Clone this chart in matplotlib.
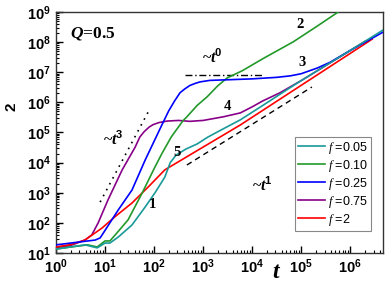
import numpy as np
import matplotlib
matplotlib.use("Agg")
import matplotlib.pyplot as plt

plt.rcParams['mathtext.fontset'] = 'custom'
plt.rcParams['mathtext.bf'] = 'Liberation Sans:bold'
plt.rcParams['mathtext.rm'] = 'Liberation Sans'
plt.rcParams['mathtext.it'] = 'Liberation Serif:italic'
plt.rcParams['mathtext.sf'] = 'Liberation Serif:bold:italic'
plt.rcParams['font.family'] = ['Liberation Sans', 'DejaVu Sans']

# ---- data (log10 of t and of the quantity) ----
teal_logt = [0.0, 0.3, 0.59, 0.84, 1.0, 1.1, 1.27, 1.55, 1.82, 2.02, 2.22, 2.33, 2.45, 2.65,
             2.88, 3.1, 3.41, 3.76, 4.22, 4.92, 5.59, 6.0, 6.67]
teal_logy = [1.13, 1.2, 1.27, 1.17, 1.33, 1.33, 1.53, 1.93, 2.53, 3.0, 3.52, 4.0, 4.25, 4.45,
             4.62, 4.85, 5.12, 5.42, 5.9, 6.64, 7.31, 7.72, 8.40]

green_logt = [0.0, 0.3, 0.65, 0.84, 1.0, 1.1, 1.24, 1.47, 1.76, 2.02, 2.16, 2.35, 2.59, 2.67,
              2.88, 3.08, 3.3, 3.49, 3.8, 4.22, 4.84, 5.3, 5.73, 5.9]
green_logy = [1.13, 1.2, 1.27, 1.2, 1.4, 1.4, 1.66, 2.1, 3.0, 3.86, 4.3, 4.85, 5.39, 5.52,
              5.9, 6.18, 6.55, 6.81, 7.05, 7.45, 8.01, 8.5, 8.97, 9.2]

blue_logt = [0.0, 0.4, 0.8, 0.9, 1.0, 1.27, 1.55, 1.82, 2.18, 2.3, 2.42, 2.53, 2.63, 2.73,
             2.84, 2.94, 3.14, 3.5, 4.0, 4.5, 4.78, 5.0, 5.33, 5.59, 6.0, 6.67]
blue_logy = [1.27, 1.35, 1.43, 1.5, 1.75, 2.43, 3.09, 4.09, 5.32, 5.72, 6.05, 6.32, 6.45, 6.56,
             6.63, 6.68, 6.73, 6.75, 6.78, 6.83, 6.88, 6.95, 7.14, 7.33, 7.72, 8.33]

purple_logt = [0.0, 0.3, 0.59, 0.73, 0.86, 1.06, 1.35, 1.61, 1.71, 1.8, 1.9, 1.98, 2.1, 2.27,
               2.5, 2.73, 3.0, 3.41, 3.76, 4.0, 4.22, 4.57, 5.0, 5.59, 6.3]
purple_logy = [1.17, 1.25, 1.43, 1.6, 2.0, 2.76, 3.76, 4.5, 4.85, 5.03, 5.18, 5.26, 5.33, 5.38,
               5.4, 5.37, 5.4, 5.52, 5.65, 5.85, 6.05, 6.32, 6.72, 7.31, 8.02]

red_logt = [0.0, 0.3, 0.59, 0.94, 1.2, 1.55, 1.88, 2.22, 3.76, 6.45]
red_logy = [1.2, 1.28, 1.43, 1.83, 2.2, 2.66, 3.19, 3.76, 5.25, 8.1]

series_labels = ['=0.05', '=0.10', '=0.25', '=0.75', '=2']
series_colors = ['#1a9999', '#22992a', '#0000ff', '#880088', '#ff0000']

# guide lines
cube_logt, cube_logy = [0.9, 1.88], [2.69, 5.68]
flat_logt, flat_logy = [2.63, 4.22], [6.91, 6.91]
lin_logt, lin_logy = [2.67, 5.22], [3.92, 6.51]

fig = plt.figure(figsize=(3.9, 2.91), dpi=100)
ax = fig.add_axes([0.1436, 0.1306, 0.982 - 0.1436, 0.9588 - 0.1306])

curves = [(teal_logt, teal_logy), (green_logt, green_logy), (blue_logt, blue_logy),
          (purple_logt, purple_logy), (red_logt, red_logy)]
zord = [6, 4, 5, 2, 3]
for (lt, ly), lab, c, z in zip(curves, series_labels, series_colors, zord):
    ax.plot(10 ** np.array(lt), 10 ** np.array(ly), color=c, lw=1.2, zorder=z,
            label=r'$\mathit{f}$ ' + lab)

ax.plot(10 ** np.array(cube_logt), 10 ** np.array(cube_logy), color='k', lw=1.2,
        linestyle=(0, (1, 3)))
ax.plot(10 ** np.array(flat_logt), 10 ** np.array(flat_logy), color='k', lw=1.0,
        linestyle=(0, (5, 2, 1, 2)))
ax.plot(10 ** np.array(lin_logt), 10 ** np.array(lin_logy), color='k', lw=1.0,
        linestyle=(0, (4, 3)))

ax.set_xscale('log')
ax.set_yscale('log')
ax.set_xlim(1, 10 ** 6.67)
ax.set_ylim(10, 1e9)
ax.set_yticks([10 ** k for k in range(1, 10)])
ax.set_xticks([10 ** k for k in range(0, 7)])
ax.xaxis.set_minor_locator(matplotlib.ticker.LogLocator(base=10, subs=np.arange(2, 10), numticks=20))
ax.yaxis.set_minor_locator(matplotlib.ticker.LogLocator(base=10, subs=np.arange(2, 10), numticks=20))
ax.xaxis.set_minor_formatter(matplotlib.ticker.NullFormatter())
ax.yaxis.set_minor_formatter(matplotlib.ticker.NullFormatter())
ax.tick_params(which='both', direction='in', top=False, right=False, labelsize=10.5)
ax.tick_params(which='major', length=5, width=1)
ax.tick_params(which='minor', length=2.5, width=0.8)
plt.rcParams['mathtext.default'] = 'bf'
ax.xaxis.set_major_formatter(matplotlib.ticker.FuncFormatter(lambda v, p: r'$\mathbf{10^{%d}}$' % round(np.log10(v))))
ax.yaxis.set_major_formatter(matplotlib.ticker.FuncFormatter(lambda v, p: r'$\mathbf{10^{%d}}$' % round(np.log10(v))))
for s in ax.spines.values():
    s.set_linewidth(1.0)
    s.set_color('#333333')

serif = 'Liberation Serif'
fig.text(277 / 390, 1 - 272 / 291, r'$\mathsf{t}$', fontsize=17, ha='center', va='center')
fig.text(12 / 390, 1 - 107 / 291, '2', fontsize=11, fontweight='bold', rotation=90,
         ha='center', va='center')

def ptxt(px, py, s, size=10, **kw):
    fig.text(px / 390, 1 - py / 291, s, fontsize=size, ha='center', va='center', **kw)

ptxt(93, 33, r'$\mathsf{Q}$=0.5', size=12.5, family=serif, fontweight='bold')
ptxt(113, 140, r'~$\mathsf{t}^{3}$', size=11.5, family=serif, fontweight='bold')
ptxt(212, 58, r'~$\mathsf{t}^{0}$', size=11.5, family=serif, fontweight='bold')
ptxt(262, 186, r'~$\mathsf{t}^{1}$', size=11.5, family=serif, fontweight='bold')
ptxt(152, 204, '1', size=10.5, family=serif, fontweight='bold')
ptxt(300, 25, '2', size=10.5, family=serif, fontweight='bold')
ptxt(302, 62, '3', size=10.5, family=serif, fontweight='bold')
ptxt(227, 106, '4', size=10.5, family=serif, fontweight='bold')
ptxt(177, 153, '5', size=10.5, family=serif, fontweight='bold')

leg = ax.legend(loc='lower right', bbox_to_anchor=((371 - 56) / 327, (253 - 231) / 241),
                fontsize=9, frameon=True, fancybox=False, framealpha=1, edgecolor='#888888',
                handlelength=2.2, handletextpad=0.2, labelspacing=0.16, borderpad=0.25,
                borderaxespad=0)
leg.get_frame().set_linewidth(0.8)

fig.savefig('out.png', dpi=100)
